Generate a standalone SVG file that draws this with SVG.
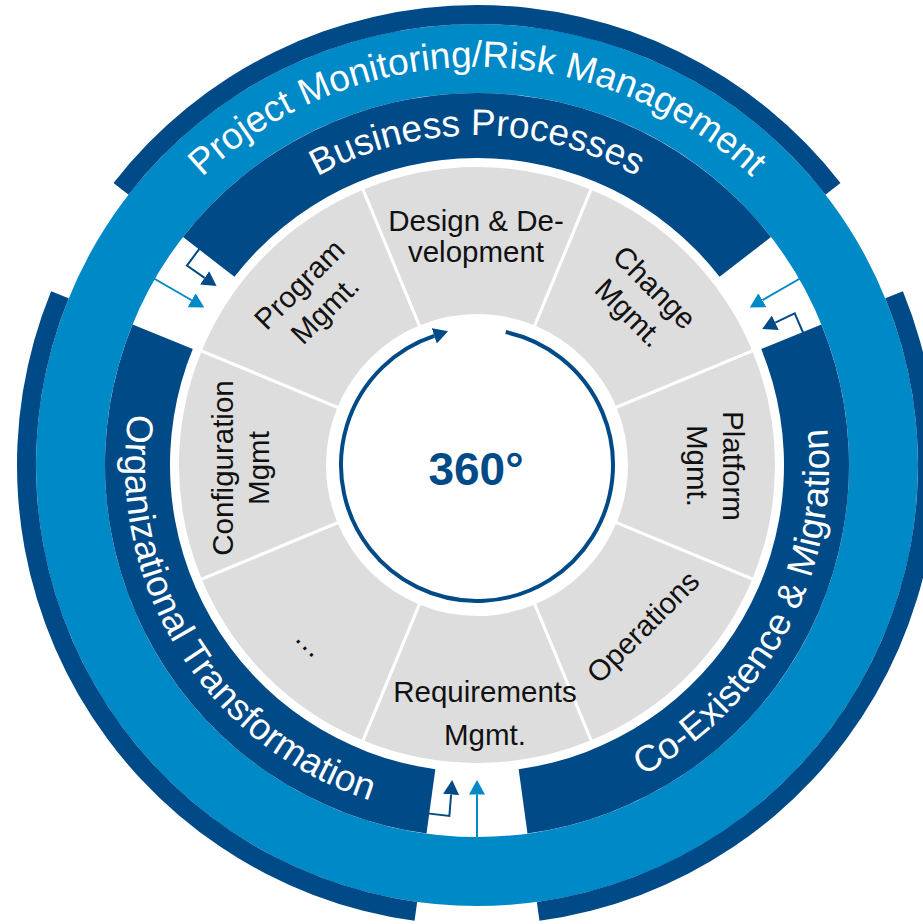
<svg xmlns="http://www.w3.org/2000/svg" xmlns:xlink="http://www.w3.org/1999/xlink" width="923" height="924" viewBox="0 0 923 924">
<style>
  .dk{fill:#004A87}
  .seg{fill:#DDDDDD;stroke:#FFFFFF;stroke-width:3}
  .rt{font-family:"Liberation Sans",Arial,sans-serif;font-size:37px;fill:#FFFFFF}
  .lbl{font-family:"Liberation Sans",Arial,sans-serif;font-size:29.5px;fill:#111111;text-anchor:middle}
  .cd{fill:none;stroke:#004A87;stroke-width:2;marker-end:url(#ahD)}
  .cl{fill:none;stroke:#0089C7;stroke-width:2;marker-end:url(#ahL)}
</style>
<defs>
  <marker id="ahD" markerUnits="userSpaceOnUse" viewBox="0 0 14.5 16" markerWidth="14.5" markerHeight="16" refX="0" refY="8" orient="auto">
    <path d="M0,0 L14.5,8 L0,16 Z" fill="#004A87"/>
  </marker>
  <marker id="ahL" markerUnits="userSpaceOnUse" viewBox="0 0 14.5 16" markerWidth="14.5" markerHeight="16" refX="0" refY="8" orient="auto">
    <path d="M0,0 L14.5,8 L0,16 Z" fill="#0089C7"/>
  </marker>
  <path id="seg" d="M362.386,188.298 A299.5,299.5 0 0 1 591.614,188.298 L534.211,326.880 A149.5,149.5 0 0 0 419.789,326.880 Z"/>
  <path id="band" d="M183.06,237 A372,372 0 0 1 770.94,237 L719.58,276.84 A307,307 0 0 0 234.42,276.84 Z"/>
  <path id="rim" d="M113.53,183.06 A460,460 0 0 1 840.47,183.06 L825.46,194.71 A441,441 0 0 0 128.54,194.71 Z"/>
  <path id="tpProject" d="M79,465 A398,398 0 0 1 875,465"/>
  <path id="tpBusiness" d="M147,465 A330,330 0 0 1 807,465"/>
  <path id="tpOrg" d="M241.47,203.41 A352,352 0 0 0 608.86,791.37"/>
  <path id="tpCoEx" d="M368.23,799.77 A352,352 0 0 0 693.71,187.62"/>
</defs>

<g id="project-monitoring">
  <circle cx="477" cy="465" r="406.5" fill="none" stroke="#0089C7" stroke-width="69"/>
  <use href="#rim" class="dk"/>
  <use href="#rim" class="dk" transform="rotate(120 477 465)"/>
  <use href="#rim" class="dk" transform="rotate(240 477 465)"/>
  <text class="rt"><textPath href="#tpProject" startOffset="50%" text-anchor="middle">Project Monitoring/Risk Management</textPath></text>
</g>

<g id="business-processes">
  <use href="#band" class="dk"/>
  <text class="rt"><textPath href="#tpBusiness" startOffset="50%" text-anchor="middle">Business Processes</textPath></text>
</g>

<g id="co-existence-migration">
  <use href="#band" class="dk" transform="rotate(120 477 465)"/>
  <text class="rt"><textPath href="#tpCoEx" startOffset="50%" text-anchor="middle">Co-Existence &amp; Migration</textPath></text>
</g>

<g id="organizational-transformation">
  <use href="#band" class="dk" transform="rotate(240 477 465)"/>
  <text class="rt"><textPath href="#tpOrg" startOffset="50%" text-anchor="middle">Organizational Transformation</textPath></text>
</g>

<g id="seg-design">
  <use href="#seg" class="seg"/>
  <text class="lbl" x="476" y="231">Design &amp; De-</text>
  <text class="lbl" x="476" y="262">velopment</text>
</g>
<g id="seg-change">
  <use href="#seg" class="seg" transform="rotate(45 477 465)"/>
  <g transform="translate(640,302) rotate(45)">
    <text class="lbl" y="-10.5">Change</text>
    <text class="lbl" y="25.5">Mgmt.</text>
  </g>
</g>
<g id="seg-platform">
  <use href="#seg" class="seg" transform="rotate(90 477 465)"/>
  <g transform="translate(712,466) rotate(90)">
    <text class="lbl" y="-10.5">Platform</text>
    <text class="lbl" y="25.5">Mgmt.</text>
  </g>
</g>
<g id="seg-operations">
  <use href="#seg" class="seg" transform="rotate(135 477 465)"/>
  <g transform="translate(643,627) rotate(-45)">
    <text class="lbl" y="10">Operations</text>
  </g>
</g>
<g id="seg-requirements">
  <use href="#seg" class="seg" transform="rotate(180 477 465)"/>
  <text class="lbl" x="485" y="702">Requirements</text>
  <text class="lbl" x="485" y="745">Mgmt.</text>
</g>
<g id="seg-more">
  <use href="#seg" class="seg" transform="rotate(225 477 465)"/>
  <g transform="translate(305,648) rotate(45)">
    <text class="lbl" y="2">…</text>
  </g>
</g>
<g id="seg-configuration">
  <use href="#seg" class="seg" transform="rotate(270 477 465)"/>
  <g transform="translate(243,468) rotate(-90)">
    <text class="lbl" y="-10.5">Configuration</text>
    <text class="lbl" y="25.5">Mgmt</text>
  </g>
</g>
<g id="seg-program">
  <use href="#seg" class="seg" transform="rotate(315 477 465)"/>
  <g transform="translate(314,299) rotate(-45)">
    <text class="lbl" y="-10.5">Program</text>
    <text class="lbl" y="25.5">Mgmt.</text>
  </g>
</g>

<g id="center-360">
  <path d="M505.74,332.07 A136,136 0 1 1 434.30,335.88" fill="none" stroke="#004A87" stroke-width="4" marker-end="url(#ahD)"/>
  <text x="476" y="485" font-family="'Liberation Sans',Arial,sans-serif" font-size="46" font-weight="bold" fill="#004A87" text-anchor="middle">360°</text>
</g>

<g id="connectors">
  <g id="arrows-bottom">
    <path class="cl" d="M477,842 L477,794.5"/>
    <path class="cd" d="M424.97,813.13 L449.38,815.92 L451.07,794.48"/>
  </g>
  <g id="arrows-top-left" transform="rotate(120 477 465)">
    <path class="cl" d="M477,842 L477,794.5"/>
    <path class="cd" d="M424.97,813.13 L449.38,815.92 L451.07,794.48"/>
  </g>
  <g id="arrows-top-right" transform="rotate(240 477 465)">
    <path class="cl" d="M477,842 L477,794.5"/>
    <path class="cd" d="M424.97,813.13 L449.38,815.92 L451.07,794.48"/>
  </g>
</g>
</svg>
